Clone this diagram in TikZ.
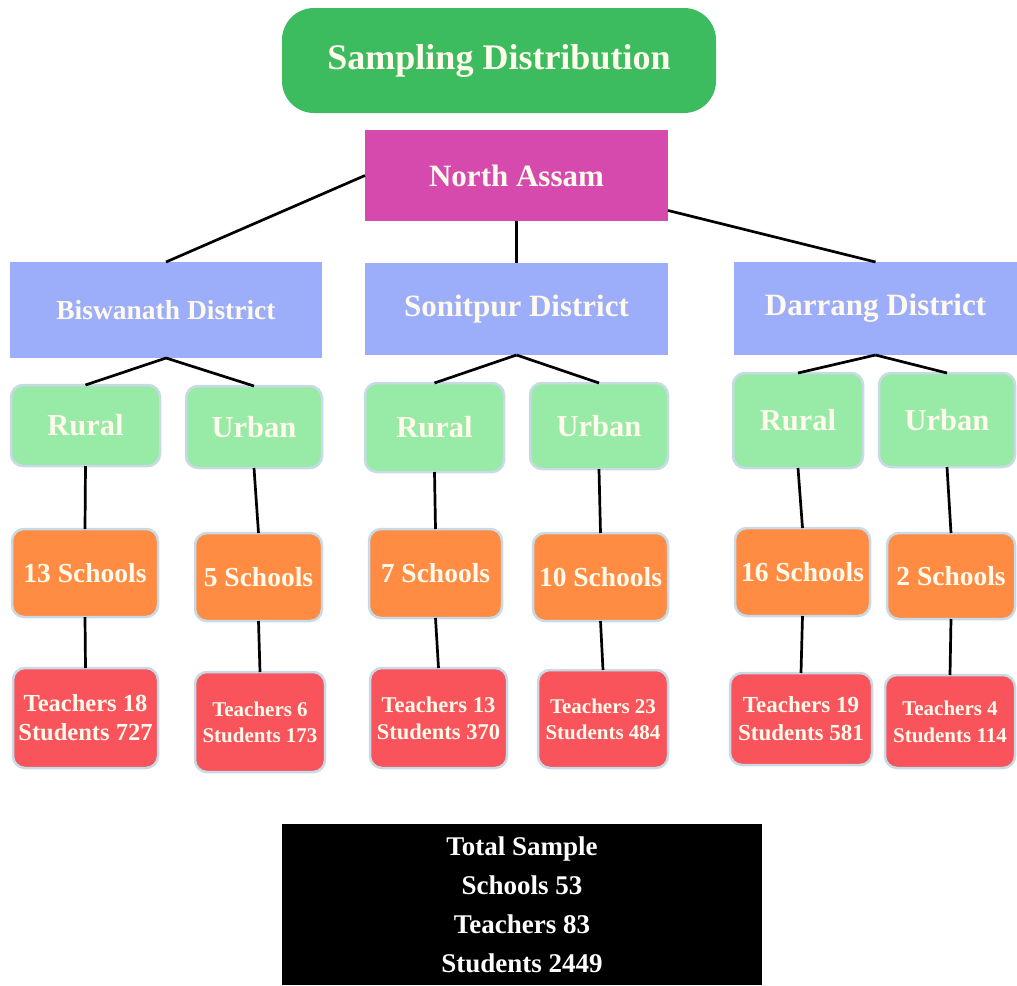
\documentclass[tikz,border=0pt]{standalone}
\usepackage{fontspec}
\setmainfont{Liberation Serif}[BoldFont={Liberation Serif Bold}]
\definecolor{titlegreen}{RGB}{61,187,95}
\definecolor{magentabox}{RGB}{214,74,174}
\definecolor{distblue}{RGB}{156,173,250}
\definecolor{lightgreen}{RGB}{152,235,166}
\definecolor{orangebox}{RGB}{255,140,66}
\definecolor{redbox}{RGB}{249,84,91}
\definecolor{boxedge}{RGB}{200,218,230}
\definecolor{textcream}{RGB}{255,250,236}
\newcommand{\fs}[1]{\fontsize{#1}{#1}\selectfont}
\begin{document}
\begin{tikzpicture}[x=1pt,y=-1pt,
  every node/.style={inner sep=0pt, outer sep=0pt, text=textcream, font=\bfseries, align=center},
  titlebox/.style={fill=titlegreen, rounded corners=32pt},
  regionbox/.style={fill=magentabox},
  distbox/.style={fill=distblue},
  areabox/.style={fill=lightgreen, draw=boxedge, line width=2.5pt, rounded corners=12pt},
  schoolbox/.style={fill=orangebox, draw=boxedge, line width=2.5pt, rounded corners=12pt},
  countbox/.style={fill=redbox, draw=boxedge, line width=2.5pt, rounded corners=12pt},
  totalbox/.style={fill=black, text=white},
  link/.style={draw=black, line width=2.7pt}
]
\fill[white] (0,0) rectangle (1017,985);
\useasboundingbox (0,0) rectangle (1017,985);

% title and region
\node[titlebox, minimum width=434pt, minimum height=105pt, font=\bfseries\fs{36}] (title) at (499,60.5) {Sampling Distribution};
\node[regionbox, minimum width=303pt, minimum height=91pt, font=\bfseries\fs{31}] (na) at (516.5,175.5) {North Assam};

% districts
\node[distbox, minimum width=312pt, minimum height=96pt, font=\bfseries\fs{27.5}] (bis) at (166,310) {Biswanath District};
\node[distbox, minimum width=303pt, minimum height=92pt, font=\bfseries\fs{31}] (son) at (516.5,309) {Sonitpur District};
\node[distbox, minimum width=283pt, minimum height=93pt, font=\bfseries\fs{31}] (dar) at (875.5,308.5) {Darrang District};

% rural / urban
\node[areabox, minimum width=149pt, minimum height=81pt, font=\bfseries\fs{30.5}] (br) at (85.5,425.5) {Rural};
\node[areabox, minimum width=136pt, minimum height=82pt, font=\bfseries\fs{30.5}] (bu) at (254,427) {Urban};
\node[areabox, minimum width=139pt, minimum height=89pt, font=\bfseries\fs{30.5}] (sr) at (434.5,427.5) {Rural};
\node[areabox, minimum width=138pt, minimum height=86pt, font=\bfseries\fs{30.5}] (su) at (599,426) {Urban};
\node[areabox, minimum width=130pt, minimum height=95pt, font=\bfseries\fs{30.5}] (dr) at (798,420.5) {Rural};
\node[areabox, minimum width=136pt, minimum height=94pt, font=\bfseries\fs{30.5}] (du) at (947,420) {Urban};

% schools
\node[schoolbox, minimum width=146pt, minimum height=88pt, font=\bfseries\fs{27.5}] (bs1) at (85,573) {13 Schools};
\node[schoolbox, minimum width=127pt, minimum height=88pt, font=\bfseries\fs{27.5}] (bs2) at (258.5,577) {5 Schools};
\node[schoolbox, minimum width=133pt, minimum height=89pt, font=\bfseries\fs{27.5}] (ss1) at (435.5,573.5) {7 Schools};
\node[schoolbox, minimum width=135pt, minimum height=88pt, font=\bfseries\fs{27.5}] (ss2) at (600.5,577) {10 Schools};
\node[schoolbox, minimum width=135pt, minimum height=88pt, font=\bfseries\fs{27.5}] (ds1) at (802.5,572) {16 Schools};
\node[schoolbox, minimum width=128pt, minimum height=86pt, font=\bfseries\fs{27.5}] (ds2) at (951,576) {2 Schools};

% teachers / students
\node[countbox, minimum width=145pt, minimum height=100pt, font=\bfseries\fontsize{24.5}{29}\selectfont] (bc1) at (85.5,718) {Teachers 18\\Students 727};
\node[countbox, minimum width=130pt, minimum height=100pt, font=\bfseries\fontsize{21}{26}\selectfont] (bc2) at (260,722) {Teachers 6\\Students 173};
\node[countbox, minimum width=137pt, minimum height=100pt, font=\bfseries\fontsize{22.5}{27}\selectfont] (sc1) at (438.5,718) {Teachers 13\\Students 370};
\node[countbox, minimum width=130pt, minimum height=98pt, font=\bfseries\fontsize{21}{26}\selectfont] (sc2) at (603,719) {Teachers 23\\Students 484};
\node[countbox, minimum width=142pt, minimum height=92pt, font=\bfseries\fontsize{23}{28}\selectfont] (dc1) at (801,719) {Teachers 19\\Students 581};
\node[countbox, minimum width=130pt, minimum height=93pt, font=\bfseries\fontsize{21}{27}\selectfont] (dc2) at (950,721.5) {Teachers 4\\Students 114};

% total
\node[totalbox, minimum width=480pt, minimum height=161pt, font=\bfseries\fontsize{27}{39}\selectfont] (tot) at (522,904.5) {Total Sample\\Schools 53\\Teachers 83\\Students 2449};

% connectors
\draw[link] (na.west) -- (bis.north);
\draw[link] (na.south) -- (son.north);
\draw[link] (na.-13.5) -- (dar.north);

\draw[link] (bis.south) -- (br.north);
\draw[link] (bis.south) -- (bu.north);
\draw[link] (son.south) -- (sr.north);
\draw[link] (son.south) -- (su.north);
\draw[link] (dar.south) -- (dr.north);
\draw[link] (dar.south) -- (du.north);

\draw[link] (br.south) -- (bs1.north);
\draw[link] (bu.south) -- (bs2.north);
\draw[link] (sr.south) -- (ss1.north);
\draw[link] (su.south) -- (ss2.north);
\draw[link] (dr.south) -- (ds1.north);
\draw[link] (du.south) -- (ds2.north);

\draw[link] (bs1.south) -- (bc1.north);
\draw[link] (bs2.south) -- (bc2.north);
\draw[link] (ss1.south) -- (sc1.north);
\draw[link] (ss2.south) -- (sc2.north);
\draw[link] (ds1.south) -- (dc1.north);
\draw[link] (ds2.south) -- (dc2.north);
\end{tikzpicture}
\end{document}
